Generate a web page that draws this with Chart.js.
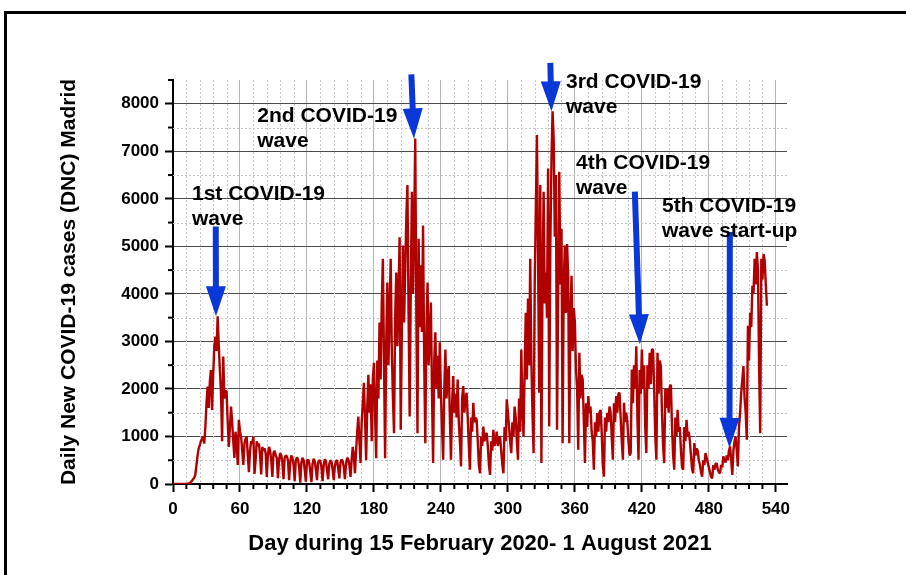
<!DOCTYPE html>
<html>
<head>
<meta charset="utf-8">
<script src="https://cdn.jsdelivr.net/npm/chart.js@4.4.0/dist/chart.umd.min.js"></script>
<style>
html, body { margin: 0; padding: 0; background: #fff; overflow: hidden; }
#wrap { position: relative; width: 906px; height: 575px; }
#frame { position: absolute; left: 4px; top: 11px; width: 1000px; height: 1000px; border: 3px solid #000; pointer-events: none; }
canvas { position: absolute; left: 0; top: 0; }
</style>
</head>
<body>
<div id="wrap">
  <canvas id="chart" width="906" height="575"></canvas>
  <div id="frame"></div>
</div>
<script>
// daily new cases, one value per day from day 0 (15 Feb 2020)
var dailyCases = [
    0, 0, 0, 0, 0, 0, 0, 0, 0, 0,
    0, 0, 0, 5, 10, 20, 40, 70, 100, 130,
    200, 400, 600, 750, 820, 900, 950, 1000, 850, 1200,
    1700, 2050, 1600, 2150, 2400, 1560, 2300, 2900, 3100, 2800,
    3530, 2900, 2400, 1920, 900, 2680, 1800, 1950, 1950, 1300,
    780, 1200, 1630, 1300, 900, 550, 1100, 900, 400, 1350,
    1100, 1000, 700, 400, 850, 950, 1000, 600, 250, 700,
    900, 850, 1000, 210, 500, 900, 800, 850, 600, 200,
    780, 700, 750, 650, 150, 600, 780, 700, 500, 150,
    650, 700, 600, 550, 120, 500, 650, 600, 450, 100,
    550, 600, 580, 500, 80, 450, 600, 550, 400, 60,
    500, 560, 520, 350, 30, 450, 550, 500, 300, 50,
    480, 520, 450, 250, 40, 420, 530, 480, 300, 80,
    450, 500, 480, 350, 60, 400, 520, 480, 280, 100,
    420, 500, 470, 300, 80, 380, 480, 500, 320, 120,
    450, 520, 480, 350, 100, 420, 550, 520, 400, 150,
    500, 780, 600, 225, 700, 1100, 1420, 900, 440, 1300,
    1700, 2130, 1400, 500, 1600, 2300, 1500, 2100, 900, 2200,
    2550, 1500, 540, 2600, 1800, 3400, 2200, 3800, 4740, 2600,
    540, 3000, 4240, 2500, 3600, 4740, 2800, 1800, 1070, 3500,
    4450, 2900, 4000, 5190, 1140, 3200, 5020, 3400, 4500, 5600,
    6290, 3600, 1420, 4200, 6150, 4000, 5400, 7270, 3500, 1070,
    5160, 3300, 4600, 3200, 5440, 2600, 860, 3200, 4240, 2500,
    3100, 3820, 1900, 440, 2600, 3190, 2000, 2700, 1800, 2980,
    1900, 1200, 510, 2000, 2830, 1800, 2300, 2480, 1400, 510,
    1700, 2270, 1500, 1900, 1400, 2200, 1300, 900, 370, 1800,
    2060, 1500, 1800, 1920, 1400, 800, 300, 1400, 1100, 1710,
    1300, 1400, 1350, 900, 400, 225, 1000, 800, 1210, 900,
    1050, 1070, 800, 400, 190, 900, 700, 1140, 800, 900,
    1100, 800, 950, 1000, 700, 400, 225, 1200, 900, 1780,
    1500, 1200, 900, 650, 1300, 1000, 1630, 1400, 900, 510,
    1800, 1100, 2830, 1600, 1000, 2400, 3600, 2200, 3900, 2500,
    4740, 2600, 1500, 650, 4200, 5800, 7340, 4800, 1920, 6290,
    440, 4300, 6150, 3800, 4450, 3500, 6640, 1210, 5000, 6800,
    7840, 7270, 5200, 6500, 1140, 4000, 6570, 4200, 5370, 860,
    4200, 5020, 3600, 5050, 4380, 860, 3500, 4380, 2800, 3700,
    3400, 2400, 2000, 720, 2760, 1800, 2300, 2200, 1300, 440,
    1700, 1200, 1850, 1500, 1630, 1100, 900, 300, 1300, 1000,
    1490, 1100, 1500, 1560, 1100, 400, 155, 1400, 1100, 1500,
    1300, 1630, 1500, 1000, 510, 1700, 1300, 1850, 1500, 1900,
    1920, 1400, 900, 510, 1710, 1300, 1500, 1300, 900, 600,
    650, 2410, 1700, 2500, 2000, 2900, 1400, 510, 2400, 1900,
    2830, 2000, 2500, 1200, 650, 2500, 2000, 2760, 2100, 2830,
    2830, 2000, 1000, 510, 2760, 1900, 2600, 2480, 1500, 800,
    440, 2000, 1600, 2000, 1500, 2050, 2090, 1200, 600, 300,
    1400, 1000, 1560, 1100, 1200, 700, 350, 300, 1200, 900,
    1350, 1000, 1100, 900, 600, 300, 225, 860, 600, 750,
    700, 500, 400, 250, 155, 500, 400, 650, 550, 450,
    350, 250, 150, 120, 400, 300, 420, 440, 300, 250,
    225, 400, 350, 580, 500, 450, 600, 500, 700, 790,
    500, 190, 700, 900, 1000, 700, 370, 1200, 1500, 1920,
    2200, 2480, 1800, 1500, 930, 3330, 2600, 3600, 3300, 4170,
    4000, 4740, 4200, 4880, 4500, 2500, 1070, 4740, 4300, 4840,
    4700, 4200, 3750
];

var xTickValues = [0, 60, 120, 180, 240, 300, 360, 420, 480, 540];
var yTickValues = [0, 1000, 2000, 3000, 4000, 5000, 6000, 7000, 8000];
var xTitle = "Day during 15 February 2020- 1 August 2021";
var yTitle = "Daily New COVID-19 cases (DNC) Madrid";

// wave annotations (text anchored in data units, arrows from tail to tip)
var waveText = [["1st COVID-19", "wave"], ["2nd COVID-19", "wave"], ["3rd COVID-19", "wave"], ["4th COVID-19", "wave"], ["5th COVID-19", "wave start-up"]];
var waveTextDay = [17, 75.5, 352, 361, 438];
var waveTextCases = [5970, 7625, 8340, 6617, 5720];
var arrowTailDay = [38.3, 213.5, 338, 413.7, 498.8];
var arrowTailCases = [5420, 8620, 8860, 6150, 5300];
var arrowTipDay = [38.5, 215.8, 339, 418.2, 498.5];
var arrowTipCases = [3530, 7270, 7840, 2940, 760];

var FONT = '"Liberation Sans", Arial, sans-serif';
Chart.defaults.font.family = FONT;

var points = dailyCases.map(function (v, i) { return { x: i, y: v }; });

var drawLine = function (ctx, x1, y1, x2, y2) {
    ctx.beginPath();
    ctx.moveTo(x1, y1);
    ctx.lineTo(x2, y2);
    ctx.stroke();
};

var minorGrid = {
    id: 'minorGrid',
    beforeDatasetsDraw: function (chart) {
        var ctx = chart.ctx, a = chart.chartArea;
        var xs = chart.scales.x, ys = chart.scales.y;
        ctx.save();
        ctx.strokeStyle = '#c4c4c4';
        ctx.lineWidth = 1;
        ctx.setLineDash([2, 2]);
        for (var d = 12; d < xs.max; d += 12) {
            if (d % 60 === 0) continue;
            var px = Math.round(xs.getPixelForValue(d)) + 0.5;
            drawLine(ctx, px, a.top, px, a.bottom);
        }
        for (var v = 500; v < ys.max; v += 1000) {
            var py = Math.round(ys.getPixelForValue(v)) + 0.5;
            drawLine(ctx, a.left, py, a.right, py);
        }
        ctx.setLineDash([]);
        // minor tick marks
        ctx.strokeStyle = '#000';
        ctx.lineWidth = 2;
        for (var d2 = 12; d2 < xs.max; d2 += 12) {
            if (d2 % 60 === 0) continue;
            var px2 = xs.getPixelForValue(d2);
            drawLine(ctx, px2, a.bottom, px2, a.bottom + 5);
        }
        for (var v2 = 500; v2 <= ys.max; v2 += 1000) {
            var py2 = ys.getPixelForValue(v2);
            drawLine(ctx, a.left - 5, py2, a.left, py2);
        }
        ctx.restore();
    }
};

var waveNotes = {
    id: 'waveNotes',
    afterDatasetsDraw: function (chart) {
        var ctx = chart.ctx;
        var xs = chart.scales.x, ys = chart.scales.y;
        ctx.save();
        // arrows
        ctx.fillStyle = '#0a38d8';
        for (var i = 0; i < arrowTipDay.length; i++) {
            var x1 = xs.getPixelForValue(arrowTailDay[i]), y1 = ys.getPixelForValue(arrowTailCases[i]);
            var x2 = xs.getPixelForValue(arrowTipDay[i]), y2 = ys.getPixelForValue(arrowTipCases[i]);
            var len = Math.sqrt((x2 - x1) * (x2 - x1) + (y2 - y1) * (y2 - y1));
            var ux = (x2 - x1) / len, uy = (y2 - y1) / len;
            var nx = -uy, ny = ux;
            var headLen = 30, headHalf = 10, shaftHalf = 3;
            var bx = x2 - ux * headLen, by = y2 - uy * headLen;
            ctx.beginPath();
            ctx.moveTo(x1 + nx * shaftHalf, y1 + ny * shaftHalf);
            ctx.lineTo(bx + nx * shaftHalf, by + ny * shaftHalf);
            ctx.lineTo(bx + nx * headHalf, by + ny * headHalf);
            ctx.lineTo(x2, y2);
            ctx.lineTo(bx - nx * headHalf, by - ny * headHalf);
            ctx.lineTo(bx - nx * shaftHalf, by - ny * shaftHalf);
            ctx.lineTo(x1 - nx * shaftHalf, y1 - ny * shaftHalf);
            ctx.closePath();
            ctx.fill();
        }
        // labels
        ctx.fillStyle = '#000';
        ctx.font = 'bold 21px ' + FONT;
        ctx.textAlign = 'left';
        ctx.textBaseline = 'alphabetic';
        for (var j = 0; j < waveText.length; j++) {
            var tx = xs.getPixelForValue(waveTextDay[j]);
            var ty = ys.getPixelForValue(waveTextCases[j]);
            for (var k = 0; k < waveText[j].length; k++) {
                ctx.fillText(waveText[j][k], tx, ty + k * 25);
            }
        }
        ctx.restore();
    }
};

var PlotChart = function () {
    var canvas = document.getElementById('chart');
    new Chart(canvas.getContext('2d'), {
        type: 'line',
        data: {
            datasets: [{
                data: points,
                borderColor: '#b00000',
                borderWidth: 2.4,
                borderJoinStyle: 'bevel',
                pointRadius: 0,
                tension: 0,
                fill: false
            }]
        },
        options: {
            responsive: false,
            animation: false,
            events: [],
            layout: { padding: { left: 0, right: 119, top: 80, bottom: 0 } },
            plugins: { legend: { display: false }, tooltip: { enabled: false } },
            scales: {
                x: {
                    type: 'linear',
                    min: 0,
                    max: 550,
                    afterBuildTicks: function (s) { s.ticks = xTickValues.map(function (v) { return { value: v }; }); },
                    afterFit: function (s) { s.height = 91; },
                    grid: { color: '#b4b4b4', lineWidth: 1, tickLength: 8, tickColor: '#000', tickWidth: 2 },
                    border: { color: '#000', width: 2 },
                    ticks: { color: '#000', font: { size: 17, weight: 'bold' }, padding: 7, maxRotation: 0, autoSkip: false,
                        callback: function (v) { return String(v); } },
                    title: { display: true, text: xTitle, color: '#000', font: { size: 22, weight: 'bold' }, padding: { top: 0, bottom: 18 } }
                },
                y: {
                    min: 0,
                    max: 8500,
                    afterBuildTicks: function (s) { s.ticks = yTickValues.map(function (v) { return { value: v }; }); },
                    afterFit: function (s) { s.width = 173; },
                    grid: { color: '#4a4a4a', lineWidth: 1, tickLength: 8, tickColor: '#000', tickWidth: 2 },
                    border: { color: '#000', width: 2 },
                    ticks: { color: '#000', font: { size: 17, weight: 'bold' }, padding: 6, autoSkip: false,
                        callback: function (v) { return String(v); } },
                    title: { display: true, text: yTitle, color: '#000', font: { size: 21, weight: 'bold' }, padding: { top: 57, bottom: 0 } }
                }
            }
        },
        plugins: [minorGrid, waveNotes]
    });
};
PlotChart();
</script>
</body>
</html>
